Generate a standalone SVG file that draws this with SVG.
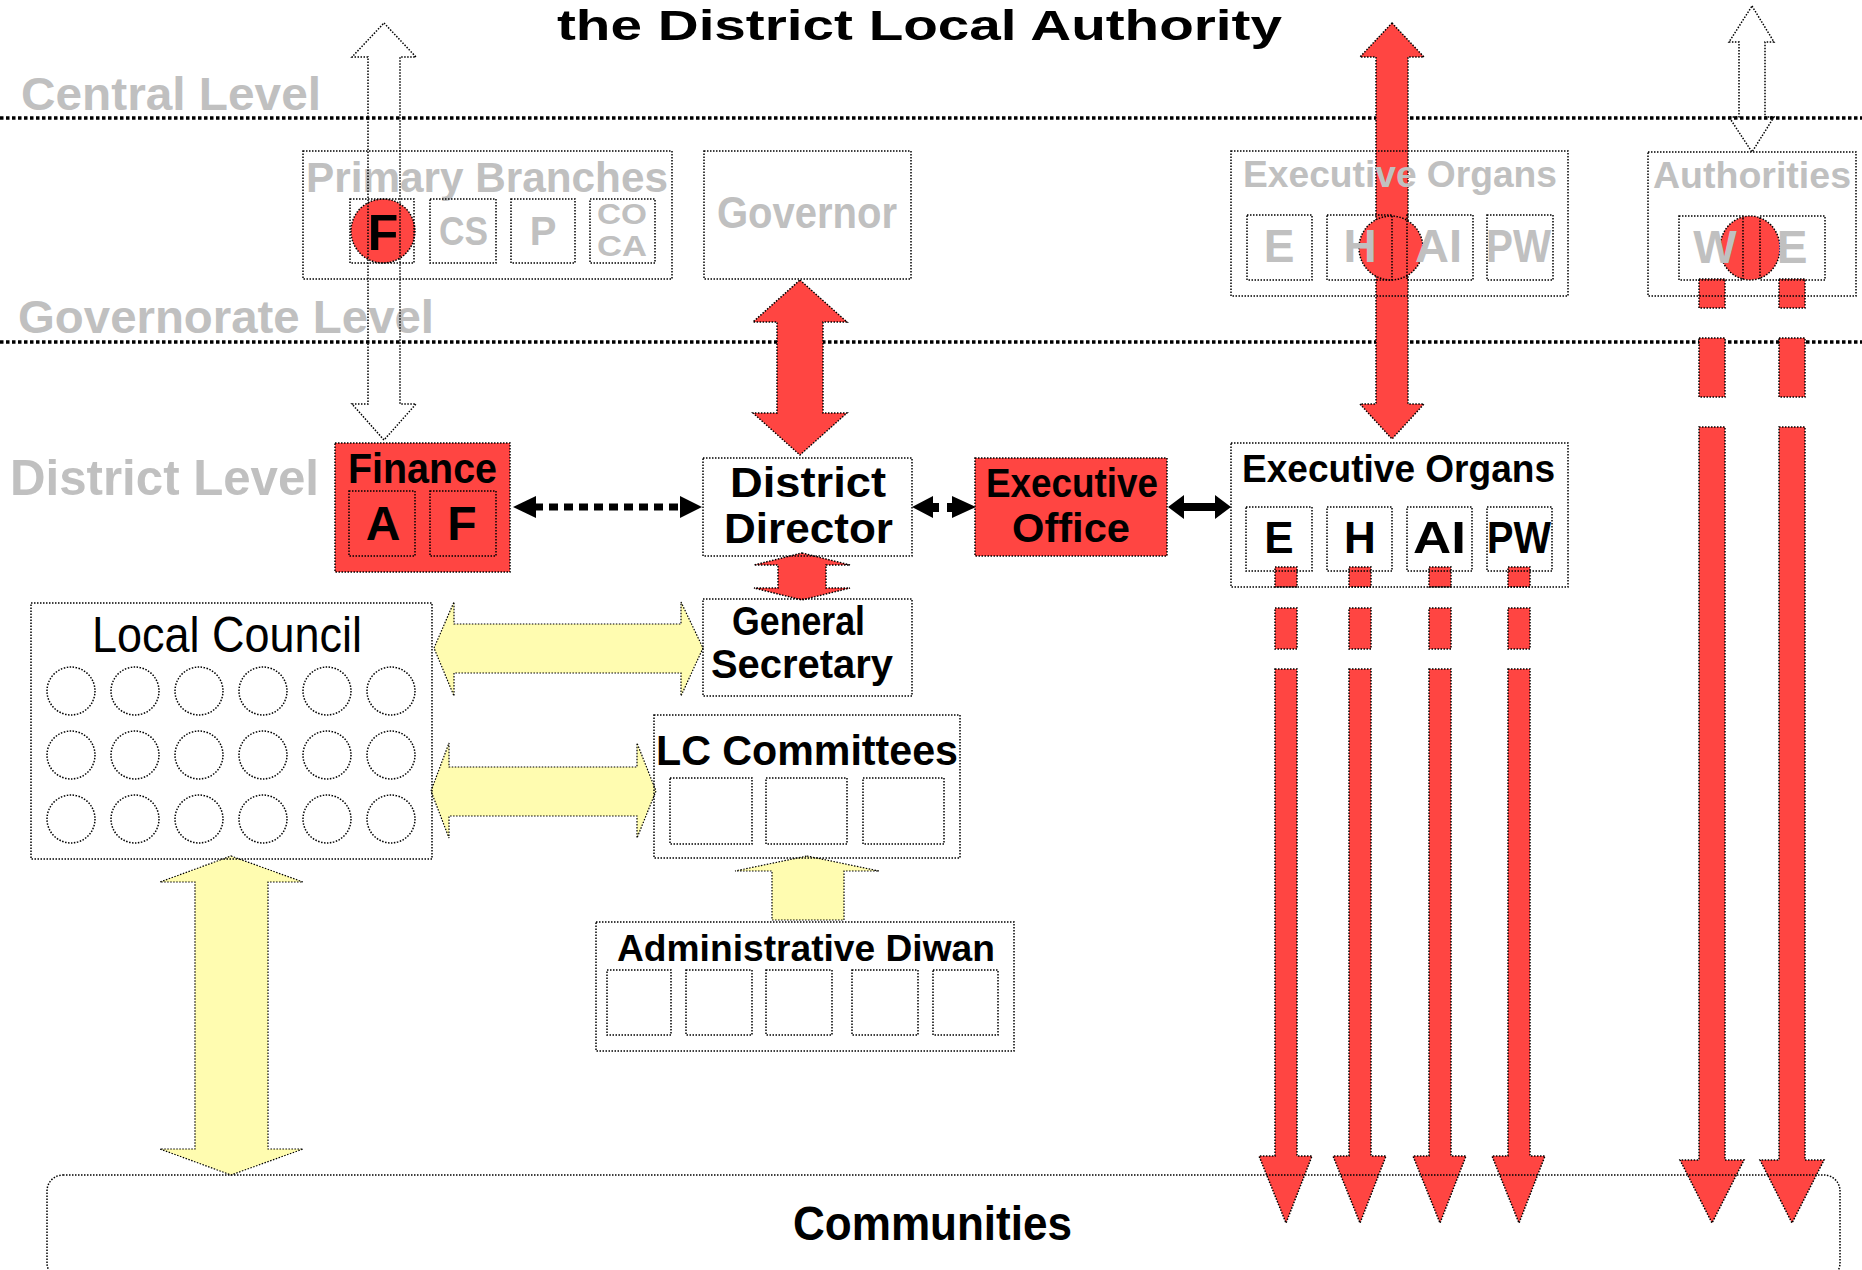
<svg xmlns="http://www.w3.org/2000/svg" width="1862" height="1270" viewBox="0 0 1862 1270">
<style>
text{font-family:"Liberation Sans",Arial,sans-serif;font-weight:bold;}
.g{fill:#c0c0c0;}
.k{fill:#000;}
.box{fill:none;stroke:#000;stroke-width:1.5;stroke-dasharray:1.5 1.5;}
.rbox{fill:#ff4542;stroke:#000;stroke-width:1.5;stroke-dasharray:1.5 1.5;}
.red{fill:#ff4542;stroke:#000;stroke-width:1.5;stroke-dasharray:1.5 1.5;}
.yel{fill:#fffcb0;stroke:#000;stroke-width:1.2;stroke-dasharray:1.5 1.5;}
.hol{fill:none;stroke:#000;stroke-width:1.5;stroke-dasharray:1.5 1.5;}
.lvl{stroke:#000;stroke-width:3.5;stroke-dasharray:3.5 2.5;fill:none;}
.blk{fill:#000;}
</style>

<g id="levels">
<line class="lvl" x1="0" y1="118" x2="1862" y2="118"/>
<line class="lvl" x1="0" y1="342" x2="1862" y2="342"/>
<text class="g" x="21" y="110" font-size="46" textLength="300" lengthAdjust="spacingAndGlyphs">Central Level</text>
<text class="g" x="18" y="333" font-size="46" textLength="416" lengthAdjust="spacingAndGlyphs">Governorate Level</text>
<text class="g" x="10" y="495" font-size="50" textLength="309" lengthAdjust="spacingAndGlyphs">District Level</text>
</g>

<g id="title">
<text class="k" x="557" y="40" font-size="43" textLength="725" lengthAdjust="spacingAndGlyphs">the District Local Authority</text>
</g>

<g id="connectors">
<!-- red big arrow central exec organs <-> district exec organs -->
<path class="red" d="M1392,23 L1424,57 L1408,57 L1408,404 L1424,404 L1392,439 L1360,404 L1376,404 L1376,57 L1360,57 Z"/>
<!-- governor <-> district director -->
<path class="red" d="M800,280 L847,322 L823,322 L823,413 L847,413 L800,455 L753,413 L777,413 L777,322 L753,322 Z"/>
<!-- district director <-> general secretary -->
<path class="red" d="M802,553 L850,565 L826,565 L826,588 L850,588 L802,600 L754,588 L778,588 L778,565 L754,565 Z"/>
<!-- finance <-> district director dotted -->
<line x1="534" y1="507" x2="684" y2="507" stroke="#000" stroke-width="7" stroke-dasharray="9 6"/>
<path class="blk" d="M513,507 L536,496 L536,518 Z"/>
<path class="blk" d="M702,507 L680,496 L680,518 Z"/>
<!-- district director <-> executive office -->
<path class="blk" d="M912,507 L933,496 L933,503 L939,503 L939,512 L933,512 L933,518 Z"/>
<path class="blk" d="M976,507 L952,496 L952,503 L947,503 L947,512 L952,512 L952,518 Z"/>
<!-- executive office <-> executive organs -->
<path class="blk" d="M1168,507 L1184,495 L1184,503 L1215,503 L1215,495 L1231,507 L1215,519 L1215,511 L1184,511 L1184,519 Z"/>
<!-- district exec organs down to communities -->
<g>
<rect class="red" x="1275" y="567" width="22" height="20"/>
<rect class="red" x="1275" y="608" width="22" height="41"/>
<path class="red" d="M1275,669 L1297,669 L1297,1156 L1312,1156 L1286,1223 L1259,1156 L1275,1156 Z"/>
<rect class="red" x="1349" y="567" width="22" height="20"/>
<rect class="red" x="1349" y="608" width="22" height="41"/>
<path class="red" d="M1349,669 L1371,669 L1371,1156 L1386,1156 L1360,1223 L1333,1156 L1349,1156 Z"/>
<rect class="red" x="1429" y="567" width="22" height="20"/>
<rect class="red" x="1429" y="608" width="22" height="41"/>
<path class="red" d="M1429,669 L1451,669 L1451,1156 L1466,1156 L1440,1223 L1413,1156 L1429,1156 Z"/>
<rect class="red" x="1508" y="567" width="22" height="20"/>
<rect class="red" x="1508" y="608" width="22" height="41"/>
<path class="red" d="M1508,669 L1530,669 L1530,1156 L1545,1156 L1519,1223 L1492,1156 L1508,1156 Z"/>
</g>
<!-- authorities W/E down to communities -->
<g>
<rect class="red" x="1699" y="279" width="26" height="29"/>
<rect class="red" x="1699" y="338" width="26" height="59"/>
<path class="red" d="M1699,427 L1725,427 L1725,1160 L1744,1160 L1712,1223 L1680,1160 L1699,1160 Z"/>
<rect class="red" x="1779" y="279" width="26" height="29"/>
<rect class="red" x="1779" y="338" width="26" height="59"/>
<path class="red" d="M1779,427 L1805,427 L1805,1160 L1824,1160 L1792,1223 L1760,1160 L1779,1160 Z"/>
</g>
<!-- yellow arrows -->
<path class="yel" d="M434,648 L454,602 L454,624 L681,624 L681,602 L703,648 L681,696 L681,673 L454,673 L454,696 Z"/>
<path class="yel" d="M431,791 L449,743 L449,767 L637,767 L637,743 L656,791 L637,838 L637,816 L449,816 L449,838 Z"/>
<path class="yel" d="M807,856 L879,871 L844,871 L844,920 L772,920 L772,871 L735,871 Z"/>
<path class="yel" d="M231,856 L303,882 L268,882 L268,1149 L303,1149 L231,1175 L160,1149 L195,1149 L195,882 L160,882 Z"/>
</g>

<g id="primary-branches">
<rect class="box" x="303" y="151" width="369" height="128"/>
<text class="g" x="306" y="192" font-size="42" textLength="362" lengthAdjust="spacingAndGlyphs">Primary Branches</text>
<circle cx="383" cy="231" r="32" class="red"/>
<rect class="box" x="350" y="199" width="64" height="64"/>
<text class="k" x="383" y="250" font-size="50" text-anchor="middle">F</text>
<rect class="box" x="430" y="199" width="66" height="64"/>
<text class="g" x="439" y="245" font-size="40" textLength="49" lengthAdjust="spacingAndGlyphs">CS</text>
<rect class="box" x="511" y="199" width="64" height="64"/>
<text class="g" x="543" y="245" font-size="40" text-anchor="middle">P</text>
<rect class="box" x="590" y="199" width="65" height="64"/>
<text class="g" x="597" y="224" font-size="29" textLength="50" lengthAdjust="spacingAndGlyphs">CO</text>
<text class="g" x="597" y="256" font-size="29" textLength="50" lengthAdjust="spacingAndGlyphs">CA</text>
</g>

<g id="central-finance-arrow">
<path class="hol" d="M384,23 L416,57 L400,57 L400,404 L416,404 L384,440 L352,404 L368,404 L368,57 L352,57 Z"/>
</g>

<g id="governor">
<rect class="box" x="704" y="151" width="207" height="128"/>
<text class="g" x="717" y="228" font-size="44" textLength="180" lengthAdjust="spacingAndGlyphs">Governor</text>
</g>

<g id="central-executive-organs">
<rect class="box" x="1231" y="151" width="337" height="145"/>
<circle cx="1391" cy="248" r="32" class="red"/>
<rect class="box" x="1247" y="215" width="65" height="65"/>
<rect class="box" x="1327" y="215" width="65" height="65"/>
<rect class="box" x="1407" y="215" width="66" height="65"/>
<rect class="box" x="1487" y="215" width="66" height="65"/>
<text class="g" x="1243" y="187" font-size="37" textLength="314" lengthAdjust="spacingAndGlyphs">Executive Organs</text>
<text class="g" x="1279" y="262" font-size="46" text-anchor="middle">E</text>
<text class="g" x="1360" y="262" font-size="46" text-anchor="middle">H</text>
<text class="g" x="1415" y="262" font-size="46" textLength="47" lengthAdjust="spacingAndGlyphs">AI</text>
<text class="g" x="1486" y="262" font-size="46" textLength="65" lengthAdjust="spacingAndGlyphs">PW</text>
</g>

<g id="authorities">
<rect class="box" x="1648" y="152" width="208" height="144"/>
<text class="g" x="1653" y="188" font-size="37" textLength="198" lengthAdjust="spacingAndGlyphs">Authorities</text>
<ellipse cx="1750" cy="248" rx="30" ry="32" class="red"/>
<rect class="box" x="1679" y="216" width="64" height="64"/>
<rect class="box" x="1760" y="216" width="65" height="64"/>
<text class="g" x="1715" y="263" font-size="46" text-anchor="middle">W</text>
<text class="g" x="1792" y="263" font-size="46" text-anchor="middle">E</text>
<path class="hol" d="M1752,6 L1774,42 L1765,42 L1765,117 L1774,117 L1752,152 L1729,117 L1739,117 L1739,42 L1729,42 Z"/>
</g>

<g id="finance">
<rect class="rbox" x="335" y="443" width="175" height="129"/>
<text class="k" x="348" y="483" font-size="42" textLength="149" lengthAdjust="spacingAndGlyphs">Finance</text>
<rect class="box" x="349" y="491" width="66" height="65"/>
<rect class="box" x="430" y="491" width="66" height="65"/>
<text class="k" x="383" y="540" font-size="48" text-anchor="middle">A</text>
<text class="k" x="462" y="540" font-size="48" text-anchor="middle">F</text>
</g>

<g id="district-director">
<rect class="box" x="703" y="458" width="209" height="98"/>
<text class="k" x="730" y="497" font-size="42" textLength="156" lengthAdjust="spacingAndGlyphs">District</text>
<text class="k" x="724" y="543" font-size="42" textLength="169" lengthAdjust="spacingAndGlyphs">Director</text>
</g>

<g id="executive-office">
<rect class="rbox" x="975" y="458" width="192" height="98"/>
<text class="k" x="986" y="497" font-size="40" textLength="172" lengthAdjust="spacingAndGlyphs">Executive</text>
<text class="k" x="1012" y="542" font-size="40" textLength="118" lengthAdjust="spacingAndGlyphs">Office</text>
</g>

<g id="district-executive-organs">
<rect class="box" x="1231" y="443" width="337" height="144"/>
<text class="k" x="1242" y="482" font-size="38" textLength="313" lengthAdjust="spacingAndGlyphs">Executive Organs</text>
<rect class="box" x="1246" y="507" width="66" height="64"/>
<rect class="box" x="1327" y="507" width="65" height="64"/>
<rect class="box" x="1407" y="507" width="65" height="64"/>
<rect class="box" x="1487" y="507" width="65" height="64"/>
<text class="k" x="1279" y="553" font-size="44" text-anchor="middle">E</text>
<text class="k" x="1360" y="553" font-size="44" text-anchor="middle">H</text>
<text class="k" x="1413" y="553" font-size="44" textLength="53" lengthAdjust="spacingAndGlyphs">AI</text>
<text class="k" x="1487" y="553" font-size="44" textLength="64" lengthAdjust="spacingAndGlyphs">PW</text>
</g>

<g id="general-secretary">
<rect class="box" x="703" y="599" width="209" height="97"/>
<text class="k" x="732" y="635" font-size="40" textLength="133" lengthAdjust="spacingAndGlyphs">General</text>
<text class="k" x="711" y="678" font-size="40" textLength="182" lengthAdjust="spacingAndGlyphs">Secretary</text>
</g>

<g id="local-council">
<rect class="box" x="31" y="603" width="401" height="256"/>
<text class="k" x="92" y="652" font-size="50" style="font-weight:normal" textLength="270" lengthAdjust="spacingAndGlyphs">Local Council</text>
<g class="box">
<ellipse cx="71" cy="691" rx="24" ry="24"/><ellipse cx="135" cy="691" rx="24" ry="24"/><ellipse cx="199" cy="691" rx="24" ry="24"/><ellipse cx="263" cy="691" rx="24" ry="24"/><ellipse cx="327" cy="691" rx="24" ry="24"/><ellipse cx="391" cy="691" rx="24" ry="24"/>
<ellipse cx="71" cy="755" rx="24" ry="24"/><ellipse cx="135" cy="755" rx="24" ry="24"/><ellipse cx="199" cy="755" rx="24" ry="24"/><ellipse cx="263" cy="755" rx="24" ry="24"/><ellipse cx="327" cy="755" rx="24" ry="24"/><ellipse cx="391" cy="755" rx="24" ry="24"/>
<ellipse cx="71" cy="819" rx="24" ry="24"/><ellipse cx="135" cy="819" rx="24" ry="24"/><ellipse cx="199" cy="819" rx="24" ry="24"/><ellipse cx="263" cy="819" rx="24" ry="24"/><ellipse cx="327" cy="819" rx="24" ry="24"/><ellipse cx="391" cy="819" rx="24" ry="24"/>
</g>
</g>

<g id="lc-committees">
<rect class="box" x="654" y="715" width="306" height="143"/>
<text class="k" x="656" y="765" font-size="42" textLength="302" lengthAdjust="spacingAndGlyphs">LC Committees</text>
<rect class="box" x="670" y="778" width="82" height="66"/>
<rect class="box" x="766" y="778" width="81" height="66"/>
<rect class="box" x="863" y="778" width="81" height="66"/>
</g>

<g id="administrative-diwan">
<rect class="box" x="596" y="922" width="418" height="129"/>
<text class="k" x="617" y="961" font-size="36" textLength="378" lengthAdjust="spacingAndGlyphs">Administrative Diwan</text>
<rect class="box" x="607" y="970" width="64" height="65"/>
<rect class="box" x="686" y="970" width="66" height="65"/>
<rect class="box" x="766" y="970" width="66" height="65"/>
<rect class="box" x="852" y="970" width="66" height="65"/>
<rect class="box" x="933" y="970" width="65" height="65"/>
</g>

<g id="communities">
<rect class="box" x="47" y="1175" width="1793" height="104" rx="16" ry="16"/>
<text class="k" x="793" y="1240" font-size="48" textLength="279" lengthAdjust="spacingAndGlyphs">Communities</text>
</g>
</svg>
